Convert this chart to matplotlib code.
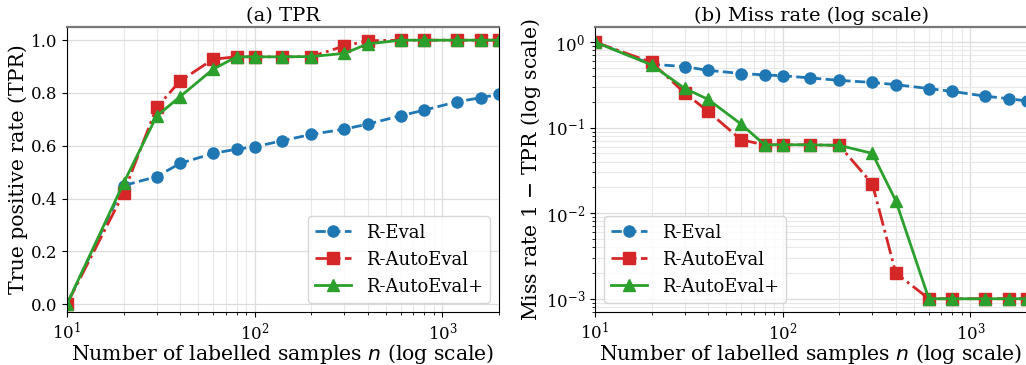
import matplotlib
matplotlib.use("Agg")
import matplotlib.pyplot as plt
import numpy as np

plt.rcParams["font.family"] = "DejaVu Serif"
plt.rcParams["mathtext.fontset"] = "dejavusans"

# labelled sample sizes
n_samples = [10, 20, 30, 40, 60, 80, 100, 140, 200, 300, 400, 600, 800, 1200, 1600, 2000]

# true positive rates per method
tpr_eval = [0.0, 0.449, 0.483, 0.533, 0.571, 0.587, 0.596, 0.619, 0.643, 0.663,
            0.682, 0.714, 0.735, 0.767, 0.782, 0.795]
tpr_autoeval = [0.0, 0.420, 0.745, 0.845, 0.928, 0.937, 0.937, 0.937, 0.938, 0.978,
                0.998, 1.0, 1.0, 1.0, 1.0, 1.0]
tpr_autoeval_plus = [0.0, 0.458, 0.712, 0.786, 0.890, 0.937, 0.937, 0.937, 0.938, 0.950,
                     0.986, 1.0, 1.0, 1.0, 1.0, 1.0]

methods = ["R-Eval", "R-AutoEval", "R-AutoEval+"]
colors = ["#1f77b4", "#d62728", "#2ca02c"]
styles = ["--", "-.", "-"]
markers = ["o", "s", "^"]

floor = 1e-3

fig = plt.figure(figsize=(10.26, 3.65), dpi=100)
ax1 = fig.add_axes([67 / 1026, 53 / 365, 432 / 1026, 285 / 365])
ax2 = fig.add_axes([595 / 1026, 53 / 365, 432 / 1026, 285 / 365])

x = np.array(n_samples)
series = [tpr_eval, tpr_autoeval, tpr_autoeval_plus]

for ax in (ax1, ax2):
    for name, vals, c, ls, mk in zip(methods, series, colors, styles, markers):
        v = np.array(vals)
        y = v if ax is ax1 else np.maximum(1 - v, floor)
        ax.plot(x, y, linestyle=ls, marker=mk, color=c, lw=2, ms=8, label=name)
    ax.set_xscale("log")
    ax.set_xlim(10, 2000)
    ax.grid(True, which="major", color="#dddddd", lw=0.9)
    ax.grid(True, which="minor", color="#e8e8e8", lw=0.8)
    ax.tick_params(labelsize=12)
    ax.set_xlabel("Number of labelled samples $n$ (log scale)", fontsize=14.7, labelpad=-1.5)
    ax.spines["top"].set_color("#777777")
    ax.spines["top"].set_linewidth(1.6)

ax1.set_ylim(-0.03, 1.05)
ax1.set_ylabel("True positive rate (TPR)", fontsize=14.7, labelpad=2)
ax1.set_title("(a) TPR", fontsize=14, pad=4)
ax1.legend(loc="lower right", fontsize=13)

ax2.set_yscale("log")
ax2.set_ylim(7e-4, 1.5)
ax2.set_ylabel("Miss rate 1 $-$ TPR (log scale)", fontsize=14.7, labelpad=2)
ax2.set_title("(b) Miss rate (log scale)", fontsize=14, pad=4)
ax2.legend(loc="lower left", fontsize=13)

fig.savefig("out.png", dpi=100)
